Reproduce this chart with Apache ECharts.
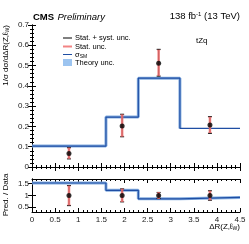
<!DOCTYPE html>
<html><head><meta charset="utf-8">
<script src="https://cdn.jsdelivr.net/npm/echarts@6/dist/echarts.min.js"></script>
<style>html,body{margin:0;padding:0;background:#fff}#c{width:249px;height:244px}</style>
</head><body><div id="c"></div>
<script>
// Bin edges of ΔR(Z,ℓW)
const binEdges = [0, 1.6, 2.3, 3.2, 4.5];
// SM prediction (normalized) per bin
const predValues = [0.103, 0.246, 0.438, 0.190];
// Data points
const dataX = [0.8, 1.95, 2.74, 3.85];
const dataY = [0.067, 0.202, 0.512, 0.207];
const totLow = [0.040, 0.149, 0.448, 0.166];
const totHigh = [0.095, 0.260, 0.580, 0.248];
const statLow = [0.043, 0.152, 0.452, 0.170];
const statHigh = [0.093, 0.257, 0.576, 0.245];
// Ratio panel
const ratioPred = [1.53, 1.22, 0.86, 0.92];
const ratioY = [1, 1, 1, 1];
const ratioTotLow = [0.57, 0.73, 0.87, 0.80];
const ratioTotHigh = [1.42, 1.28, 1.13, 1.20];
const ratioStatLow = [0.60, 0.75, 0.88, 0.82];
const ratioStatHigh = [1.40, 1.27, 1.12, 1.18];
const xTicks = [0, 0.5, 1, 1.5, 2, 2.5, 3, 3.5, 4, 4.5];
const ratioTicks = [0.5, 1, 1.5];

const BLUE = '#1f4ea3', BAND = '#86aee0', PINK = 'rgba(240,110,110,0.85)';
const FF = 'Liberation Sans, Arial';

function stepData(vals){
  const d = [];
  for (let i=0;i<vals.length;i++) d.push([binEdges[i], vals[i]]);
  d.push([binEdges[binEdges.length-1], vals[vals.length-1]]);
  return d;
}
function errData(x, lo, hi){ return x.map((v,i)=>[v, lo[i], hi[i]]); }

function errRender(color, width, capW){
  return function(params, api){
    const x = api.value(0), lo = api.value(1), hi = api.value(2);
    const p1 = api.coord([x, lo]), p2 = api.coord([x, hi]);
    const st = {stroke: color, lineWidth: width};
    const cs = {stroke: color, lineWidth: 1};
    return {type:'group', children:[
      {type:'line', shape:{x1:p1[0],y1:p1[1],x2:p2[0],y2:p2[1]}, style:st},
      {type:'line', shape:{x1:p1[0]-capW,y1:p1[1],x2:p1[0]+capW,y2:p1[1]}, style:cs},
      {type:'line', shape:{x1:p2[0]-capW,y1:p2[1],x2:p2[0]+capW,y2:p2[1]}, style:cs}
    ]};
  };
}

const axLine = {show:true, lineStyle:{color:'#000', width:1}};
const lab = {color:'#222', fontSize:8, fontFamily:FF};

function xAx(gi, pos, labels){
  return {type:'value', gridIndex:gi, position:pos, min:0, max:4.5, interval:0.5,
    axisLine:axLine, axisTick:{show:true, inside:true, length:4, lineStyle:{color:'#000'}},
    minorTick:{show:true, splitNumber:5, length:2, lineStyle:{color:'#000'}},
    axisLabel: labels ? Object.assign({show:true, margin:4, formatter: v=>String(v)}, lab) : {show:false},
    splitLine:{show:false}};
}
function yAxTop(pos, labels){
  return {type:'value', gridIndex:0, position:pos, min:0, max:0.7, interval:0.1,
    axisLine:axLine, axisTick:{show:true, inside:true, length:4, lineStyle:{color:'#000'}},
    minorTick:{show:true, splitNumber:5, length:2, lineStyle:{color:'#000'}},
    axisLabel: labels ? Object.assign({show:true, margin:3, formatter: v=>(v===0?'0':v.toFixed(1))}, lab) : {show:false},
    splitLine:{show:false}};
}
function yAxBot(pos, labels){
  return {type:'value', gridIndex:1, position:pos, min:0.3, max:1.7,
    axisLine:axLine,
    axisTick:{show:true, inside:true, length:4, customValues:ratioTicks, lineStyle:{color:'#000'}},
    axisLabel: labels ? Object.assign({show:true, margin:3, customValues:ratioTicks, formatter: v=>String(v)}, lab) : {show:false},
    splitLine:{show:false}};
}

const chart = echarts.init(document.getElementById('c'), null, {renderer:'canvas'});
chart.setOption({
  animation:false,
  grid:[{left:32, right:9, top:25, height:142},{left:32, right:9, top:179, height:33}],
  xAxis:[xAx(0,'bottom',false), xAx(0,'top',false), xAx(1,'bottom',true), xAx(1,'top',false)],
  yAxis:[yAxTop('left',true), yAxTop('right',false), yAxBot('left',true), yAxBot('right',false)],
  series:[
    {type:'line', xAxisIndex:0, yAxisIndex:0, step:'end', symbol:'none', data:stepData(predValues).slice(0,4).concat([[binEdges[3], predValues[2]]]),
      lineStyle:{color:BAND, width:3}, z:1},
    {type:'line', xAxisIndex:0, yAxisIndex:0, step:'end', symbol:'none', data:stepData(predValues),
      lineStyle:{color:BLUE, width:1.2}, z:2},
    {type:'custom', xAxisIndex:0, yAxisIndex:0, renderItem:errRender('#000',1,2), data:errData(dataX,totLow,totHigh), z:3},
    {type:'custom', xAxisIndex:0, yAxisIndex:0, renderItem:errRender(PINK,2.5,1.5), data:errData(dataX,statLow,statHigh), z:4},
    {type:'scatter', xAxisIndex:0, yAxisIndex:0, symbol:'circle', symbolSize:5, itemStyle:{color:'#000'},
      data:dataX.map((x,i)=>[x,dataY[i]]), z:5},

    {type:'line', xAxisIndex:2, yAxisIndex:2, step:'end', symbol:'none', data:stepData(ratioPred),
      lineStyle:{color:BAND, width:3}, z:1},
    {type:'line', xAxisIndex:2, yAxisIndex:2, step:'end', symbol:'none', data:stepData(ratioPred),
      lineStyle:{color:BLUE, width:1.2}, z:2},
    {type:'custom', xAxisIndex:2, yAxisIndex:2, renderItem:errRender('#000',1,2), data:errData(dataX,ratioTotLow,ratioTotHigh), z:3},
    {type:'custom', xAxisIndex:2, yAxisIndex:2, renderItem:errRender(PINK,2.5,1.5), data:errData(dataX,ratioStatLow,ratioStatHigh), z:4},
    {type:'scatter', xAxisIndex:2, yAxisIndex:2, symbol:'circle', symbolSize:5, itemStyle:{color:'#000'},
      data:dataX.map((x,i)=>[x,ratioY[i]]), z:5}
  ],
  graphic:[
    {type:'text', left:33, top:11, style:{text:'{b|CMS} {i|Preliminary}', rich:{
      b:{fontSize:9.5, fontWeight:'bold', fontFamily:FF, fill:'#000'},
      i:{fontSize:9.5, fontStyle:'italic', fontFamily:FF, fill:'#000'}}}},
    {type:'text', right:9, top:11, style:{text:'138 fb{s|-1} (13 TeV)', fontSize:9.5, fontFamily:FF, fill:'#000',
      rich:{s:{fontSize:6, verticalAlign:'top', padding:[0,0,5,0], fontFamily:FF}}}},
    {type:'text', x:196, y:37, style:{text:'tZq', fontSize:8, fontFamily:FF, fill:'#000'}},
    {type:'text', x:6, y:25, rotation:Math.PI/2, style:{text:'1/σ dσ/dΔR(Z,ℓ{s|W})', fontSize:8, fontFamily:FF, fill:'#000',
      align:'right', verticalAlign:'middle', rich:{s:{fontSize:5, padding:[4,0,0,0]}}}},
    {type:'text', x:6, y:195, rotation:Math.PI/2, style:{text:'Pred. / Data', fontSize:8, fontFamily:FF, fill:'#000',
      align:'center', verticalAlign:'middle'}},
    {type:'text', x:240, y:227, style:{text:'ΔR(Z,ℓ{s|W})', fontSize:8, fontFamily:FF, fill:'#000',
      align:'right', verticalAlign:'middle', rich:{s:{fontSize:5, padding:[4,0,0,0]}}}},
    // legend
    {type:'line', shape:{x1:63,y1:38,x2:72,y2:38}, style:{stroke:'#000', lineWidth:1}},
    {type:'text', x:75, y:38, style:{text:'Stat. + syst. unc.', fontSize:7.5, fontFamily:FF, fill:'#000', verticalAlign:'middle'}},
    {type:'line', shape:{x1:63,y1:46.5,x2:72,y2:46.5}, style:{stroke:PINK, lineWidth:2}},
    {type:'text', x:75, y:46.5, style:{text:'Stat. unc.', fontSize:7.5, fontFamily:FF, fill:'#000', verticalAlign:'middle'}},
    {type:'line', shape:{x1:63,y1:54.5,x2:72,y2:54.5}, style:{stroke:BLUE, lineWidth:1}},
    {type:'text', x:75, y:54.5, style:{text:'σ{s|SM}', fontSize:7.5, fontFamily:FF, fill:'#000', verticalAlign:'middle',
      rich:{s:{fontSize:5, padding:[4,0,0,0]}}}},
    {type:'rect', shape:{x:63,y:59,width:9,height:7}, style:{fill:'#9cc4f0'}},
    {type:'text', x:75, y:62.5, style:{text:'Theory unc.', fontSize:7.5, fontFamily:FF, fill:'#000', verticalAlign:'middle'}}
  ]
});
</script></body></html>
